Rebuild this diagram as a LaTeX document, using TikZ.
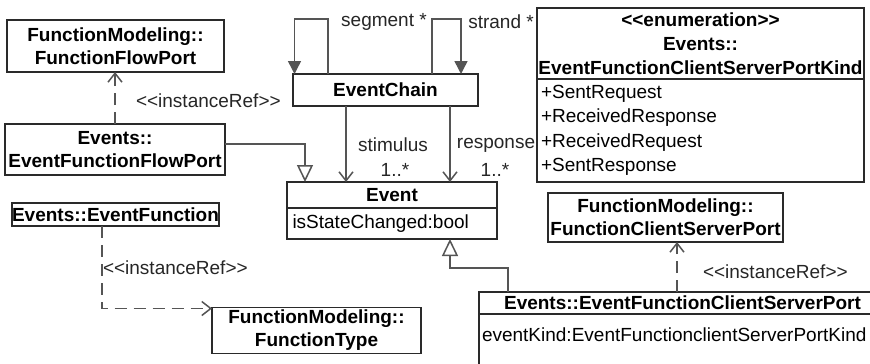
\documentclass[tikz,border=0pt]{standalone}
\usepackage{fontspec}
\setmainfont{Liberation Sans}
\usetikzlibrary{arrows.meta,calc}
\definecolor{boxc}{HTML}{2A2A2A}
\definecolor{linec}{HTML}{555555}
\newcommand{\stopen}{<\kern0pt<}
\newcommand{\stclose}{>\kern0pt>}
\begin{document}
\begin{tikzpicture}[x=1pt,y=-1pt,
  every node/.style={font=\fontsize{19}{23}\selectfont, inner sep=0pt, outer sep=0pt},
  umlbox/.style={draw=boxc, line width=1.1pt, fill=white, align=center, font=\fontsize{19}{23}\selectfont\bfseries},
  attrbox/.style={draw=boxc, line width=1.1pt, fill=white, align=left, font=\fontsize{19}{24.5}\selectfont},
  conn/.style={draw=linec, line width=1.5pt},
  dep/.style={conn, dash pattern=on 12pt off 7pt, -{Straight Barb[length=9pt,width=14pt,line width=1.5pt]}},
  nav/.style={conn, -{Straight Barb[length=9pt,width=14pt,line width=1.5pt]}},
  gen/.style={conn, -{Triangle[open,length=17pt,width=16pt,line width=1.5pt,fill=white]}},
  selfl/.style={conn, -{Triangle[length=13pt,width=13pt]}},
  lbl/.style={text=black!85}
]
\useasboundingbox (0,0) rectangle (870,364);
\fill[white] (0,0) rectangle (870,364);

% boxes
\node[umlbox, minimum width=217pt, minimum height=52pt] (ffp) at (115.5,46) {FunctionModeling::\\FunctionFlowPort};
\node[umlbox, minimum width=220pt, minimum height=51pt] (effp) at (115,149.5) {Events::\\EventFunctionFlowPort};
\node[umlbox, minimum width=207pt, minimum height=23pt] (ef) at (115.5,214.5) {Events::EventFunction};
\node[umlbox, minimum width=209pt, minimum height=46pt] (ft) at (316.5,330.5) {FunctionModeling::\\FunctionType};
\node[umlbox, minimum width=185pt, minimum height=32pt] (chain) at (385.5,90) {EventChain};
\node[umlbox, minimum width=210pt, minimum height=26pt] (eventh) at (392,195) {Event};
\node[attrbox, minimum width=210pt, minimum height=31pt, text width=199pt] (eventa) at (392,223.5) {isStateChanged:bool};
\node[umlbox, minimum width=327pt, minimum height=71pt] (enumh) at (700.5,43.5) {\stopen enumeration\stclose\\[1pt]Events::\\[1pt]EventFunctionClientServerPortKind};
\node[attrbox, minimum width=327pt, minimum height=103pt, text width=319pt] (enuma) at (700.5,130.5) {+SentRequest\\+ReceivedResponse\\+ReceivedRequest\\+SentResponse};
\node[umlbox, minimum width=235pt, minimum height=49pt] (fcsp) at (665.5,217.5) {FunctionModeling::\\FunctionClientServerPort};
\node[umlbox, minimum width=401pt, minimum height=22pt] (efcsph) at (679.5,303) {\hspace*{6pt}Events::EventFunctionClientServerPort\hfill};
\node[attrbox, minimum width=401pt, minimum height=66pt, anchor=north] (efcspa) at (efcsph.south) {};
\node[anchor=west] (kind) at (482,335) {eventKind:EventFunctionclientServerPortKind};

% instanceRef dependencies
\draw[dep] (effp.north) -- (effp.north |- ffp.south);
\node[lbl, anchor=west] (l1) at (136,101) {\stopen instanceRef\stclose};
\draw[dep] ([xshift=-13.5pt]ef.south) |- ([yshift=-1pt]ft.north west);
\node[lbl, anchor=west] (l2) at (103,268) {\stopen instanceRef\stclose};
\draw[dep] ([xshift=-2.5pt]efcsph.north) -- ([xshift=-2.5pt]efcsph.north |- fcsp.south);
\node[lbl, anchor=west] (l3) at (703,272) {\stopen instanceRef\stclose};

% generalizations
\draw[gen] ([yshift=5.5pt]effp.east) -| ([xshift=-87pt]eventh.north);
\draw[gen] ([xshift=-171.5pt]efcsph.north) -- ++(0,-24) -| ([xshift=58pt]eventa.south);

% self loops
\draw[selfl] ([xshift=-57.5pt]chain.north) -- ++(0,-55) -| ([xshift=-91pt]chain.north);
\draw[selfl] ([xshift=46.5pt]chain.north) -- ++(0,-55) -| ([xshift=75.5pt]chain.north);
\node[lbl] (seg) at (384,22) {segment *};
\node[lbl] (str) at (501,22) {strand *};

% navigable associations
\draw[nav] ([xshift=-39.5pt]chain.south) -- ([xshift=-39.5pt]chain.south |- eventh.north);
\draw[nav] ([xshift=64.5pt]chain.south) -- ([xshift=64.5pt]chain.south |- eventh.north);
\node[lbl] (stim) at (393,145) {stimulus};
\node[lbl] (m1) at (395,170) {1..*};
\node[lbl] (resp) at (496,145) {response};
\node[lbl] (m2) at (495,170) {1..*};
\end{tikzpicture}
\end{document}
